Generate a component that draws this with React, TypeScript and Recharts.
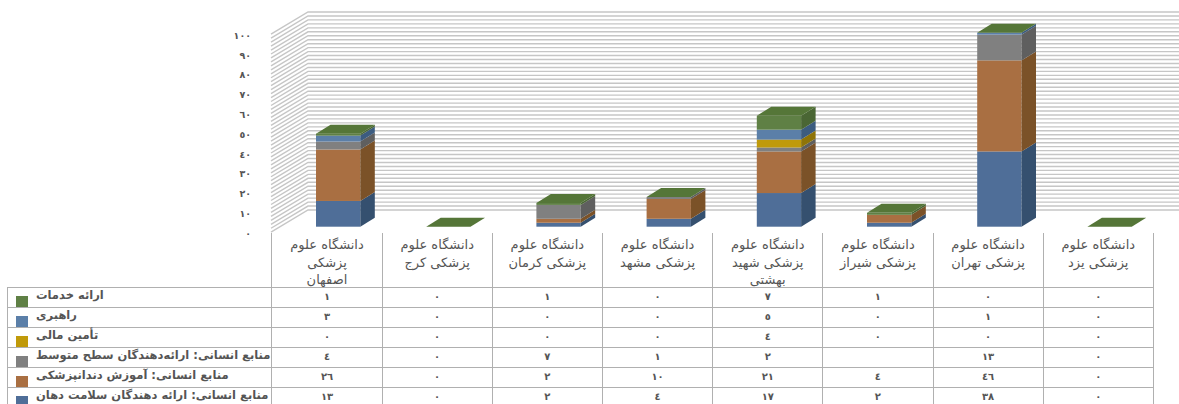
import React from 'react';
import { BarChart, Bar, XAxis, YAxis, CartesianGrid } from 'recharts';

const categories = [
  'دانشگاه علوم\nپزشکی\nاصفهان',
  'دانشگاه علوم\nپزشکی کرج',
  'دانشگاه علوم\nپزشکی کرمان',
  'دانشگاه علوم\nپزشکی مشهد',
  'دانشگاه علوم\nپزشکی شهید\nبهشتی',
  'دانشگاه علوم\nپزشکی شیراز',
  'دانشگاه علوم\nپزشکی تهران',
  'دانشگاه علوم\nپزشکی یزد',
];

// series values, bottom of the stack first
const oralHealthProviders = [13, 0, 2, 4, 17, 2, 38, 0];
const dentalEducation = [26, 0, 2, 10, 21, 4, 46, 0];
const midLevelProviders = [4, 0, 7, 1, 2, null, 13, 0];
const financing = [0, 0, 0, 0, 4, 0, 0, 0];
const leadership = [3, 0, 0, 0, 5, 0, 1, 0];
const serviceDelivery = [1, 0, 1, 0, 7, 1, 0, 0];

const labelTicks = [0, 10, 20, 30, 40, 50, 60, 70, 80, 90, 100];
const gridTicks = [
  0, 2, 4, 6, 8, 10, 12, 14, 16, 18, 20, 22, 24, 26, 28, 30, 32, 34, 36, 38, 40, 42, 44, 46, 48, 50,
  52, 54, 56, 58, 60, 62, 64, 66, 68, 70, 72, 74, 76, 78, 80, 82, 84, 86, 88, 90, 92, 94, 96, 98, 100,
];

const series = [
  { key: 'oral', name: 'منابع انسانی: ارائه دهندگان سلامت دهان', values: oralHealthProviders, front: '#4f6e98', side: '#35506f' },
  { key: 'edu', name: 'منابع انسانی: آموزش دندانپزشکی', values: dentalEducation, front: '#a96f42', side: '#7b5228' },
  { key: 'mid', name: 'منابع انسانی: ارائه‌دهندگان سطح متوسط', values: midLevelProviders, front: '#808080', side: '#5f5f5f' },
  { key: 'fin', name: 'تأمین مالی', values: financing, front: '#c09a0a', side: '#8f7408' },
  { key: 'lead', name: 'راهبری', values: leadership, front: '#5b7fa8', side: '#3c5c80' },
  { key: 'serv', name: 'ارائه خدمات', values: serviceDelivery, front: '#5f8045', side: '#4a6634' },
];

const data = categories.map((name, i) => {
  const row: Record<string, any> = { name };
  series.forEach((s) => {
    row[s.key] = s.values[i];
  });
  return row;
});

const toFa = (v: number | null) =>
  v === null ? '' : String(v).replace(/\d/g, (d) => '٠١٢٣٤٥٦٧٨٩'[Number(d)]);

const FONT = '"DejaVu Sans", sans-serif';
const DEPTH_X = 14.5;
const DEPTH_Y = 9;

// fake 3D box: front face from the scale, side and top pushed back
const Box3D = (props: any) => {
  const { x, y, width, height, front, side, isTop } = props;
  return (
    <g>
      {height > 0 && (
        <>
          <rect x={x} y={y} width={width} height={height} fill={front} />
          <polygon
            points={`${x + width},${y} ${x + width + DEPTH_X},${y - DEPTH_Y} ${x + width + DEPTH_X},${y + height - DEPTH_Y} ${x + width},${y + height}`}
            fill={side}
          />
        </>
      )}
      {isTop && (
        <polygon
          points={`${x},${y} ${x + DEPTH_X},${y - DEPTH_Y} ${x + width + DEPTH_X},${y - DEPTH_Y} ${x + width},${y}`}
          fill="#557638"
        />
      )}
    </g>
  );
};

// gridline bent across the side wall and the back wall
const WallLine = (props: any) => {
  const { y1 } = props;
  return (
    <polyline
      points={`271,${y1 + 5.5} 308,${y1 - 16.7} 1179,${y1 - 16.7}`}
      fill="none"
      stroke="#c6c6c6"
      strokeWidth={1.4}
    />
  );
};

const WallTick = (props: any) => {
  const { y, payload } = props;
  return (
    <text x={251} y={y + 10} textAnchor="end" fontSize={9.5} fontWeight="bold" fontFamily={FONT} fill="#555">
      {toFa(payload.value)}
    </text>
  );
};

const cellBorder = '1.5px solid #b0b0b0';

const DataTable = () => (
  <table
    style={{
      position: 'absolute',
      left: 7,
      top: 233,
      borderCollapse: 'collapse',
      tableLayout: 'fixed',
      width: 1146,
      fontFamily: FONT,
      color: '#555',
    }}
  >
    <colgroup>
      <col style={{ width: 264.4 }} />
      {categories.map((c) => (
        <col key={c} style={{ width: 110.2 }} />
      ))}
    </colgroup>
    <tbody>
      <tr style={{ height: 54 }}>
        <td style={{ padding: 0, borderRight: cellBorder }} />
        {categories.map((c) => (
          <td
            key={c}
            dir="rtl"
            style={{
              padding: 0,
              borderRight: cellBorder,
              borderBottom: cellBorder,
              textAlign: 'center',
              verticalAlign: 'top',
              fontSize: 13,
              lineHeight: '17.5px',
              whiteSpace: 'pre-line',
            }}
          >
            {/* third line is allowed to touch the row border, as in the source */}
            <div style={{ height: 50, paddingTop: 3 }}>{c}</div>
          </td>
        ))}
      </tr>
      {[...series].reverse().map((s) => (
        <tr key={s.key} style={{ height: 20 }}>
          <td
            style={{
              padding: 0,
              border: cellBorder,
              position: 'relative',
              fontSize: 11.5,
              fontWeight: 'bold',
              lineHeight: '14px',
            }}
          >
            <span
              style={{
                position: 'absolute',
                left: 8,
                top: 8,
                width: 12,
                height: 11,
                background: s.front,
              }}
            />
            <span dir="rtl" style={{ position: 'absolute', left: 28, top: 0, whiteSpace: 'nowrap' }}>
              {s.name}
            </span>
          </td>
          {s.values.map((v, i) => (
            <td
              key={i}
              style={{
                padding: 0,
                border: cellBorder,
                textAlign: 'center',
                fontSize: 10,
                fontWeight: 'bold',
                lineHeight: '14px',
              }}
            >
              {toFa(v)}
            </td>
          ))}
        </tr>
      ))}
    </tbody>
  </table>
);

export default function App() {
  return (
    <div
      style={{
        position: 'absolute',
        left: 0,
        top: 0,
        width: 1179,
        height: 404,
        overflow: 'hidden',
        background: '#fff',
      }}
    >
      <BarChart
        width={1179}
        height={404}
        data={data}
        barSize={44.3}
        margin={{ top: 28.7, right: 14.4, bottom: 177.3, left: 183 }}
      >
        <CartesianGrid vertical={false} horizontalValues={gridTicks} horizontal={<WallLine />} />
        <XAxis dataKey="name" hide />
        <YAxis
          width={100}
          domain={[0, 100]}
          ticks={labelTicks}
          interval={0}
          axisLine={false}
          tickLine={false}
          tick={<WallTick />}
        />
        {series.map((s, idx) => (
          <Bar
            key={s.key}
            dataKey={s.key}
            stackId="a"
            isAnimationActive={false}
            shape={(p: any) => (
              <Box3D {...p} front={s.front} side={s.side} isTop={idx === series.length - 1} />
            )}
          />
        ))}
      </BarChart>
      <DataTable />
    </div>
  );
}
